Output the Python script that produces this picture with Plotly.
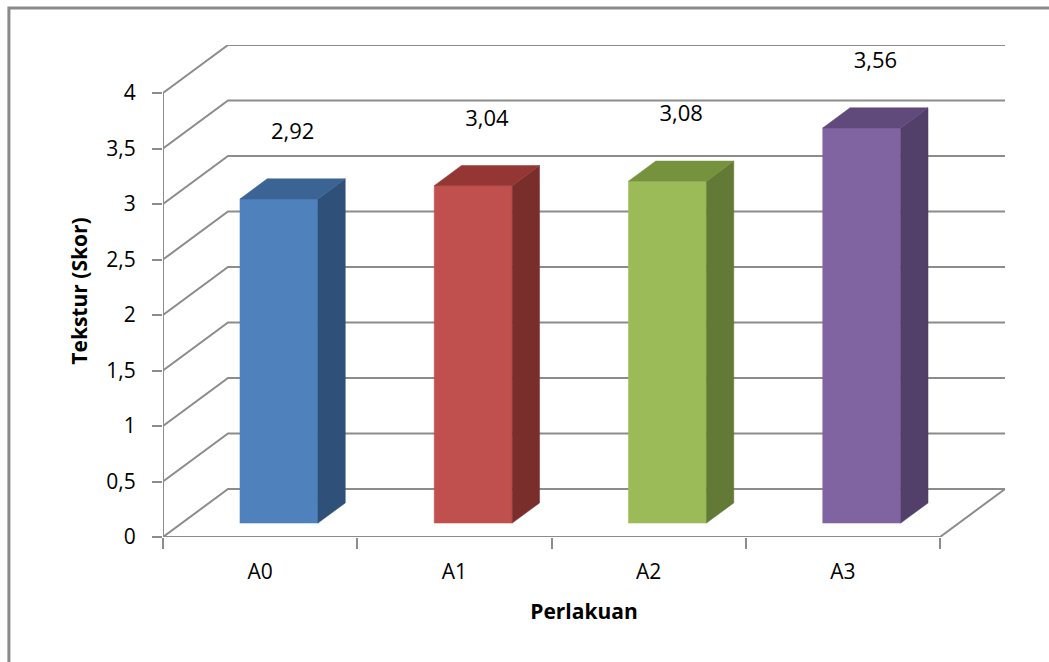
import plotly.graph_objects as go

# ---- data ----
categories = ["A0", "A1", "A2", "A3"]
values = [2.92, 3.04, 3.08, 3.56]
y_ticks = [0, 0.5, 1, 1.5, 2, 2.5, 3, 3.5, 4]
y_tick_labels = ["0", "0,5", "1", "1,5", "2", "2,5", "3", "3,5", "4"]

# ---- style ----
front_colors = ["#4F81BD", "#C0504D", "#9BBB59", "#8064A2"]
side_colors = ["#2F5078", "#7A2E2C", "#637A36", "#523F6A"]
top_colors = ["#3B6494", "#943634", "#76923C", "#5F4A7B"]
grid_color = "#8C8C8C"
font_family = "Open Sans"

# oblique projection (depth offset, in axis units)
DX = 0.3346
DY = 0.4324
F0, F1 = 0.29, 0.71     # bar depth span (fraction of full depth)
W = 0.4016              # bar width in category units
LBL = 0.50              # label lift above bar top

n = len(categories)
xmin, xmax = -0.5, n - 0.5
ymax = y_ticks[-1]

fig = go.Figure()

# gridlines: back wall + left wall diagonals
for v in y_ticks:
    fig.add_trace(go.Scatter(
        x=[xmin, xmin + DX, xmax + DX], y=[v, v + DY, v + DY],
        mode="lines", line=dict(color=grid_color, width=2),
        hoverinfo="skip", showlegend=False))
# floor right diagonal
fig.add_trace(go.Scatter(
    x=[xmax, xmax + DX], y=[0, DY], mode="lines",
    line=dict(color=grid_color, width=2), hoverinfo="skip", showlegend=False))
# front axis lines
fig.add_trace(go.Scatter(
    x=[xmin, xmin, xmax], y=[ymax, 0, 0], mode="lines",
    line=dict(color=grid_color, width=2), hoverinfo="skip", showlegend=False))

# bars
for i, (cat, v) in enumerate(zip(categories, values)):
    xl = i - W / 2 + F0 * DX
    xr = xl + W
    ddx = (F1 - F0) * DX
    y0 = F0 * DY
    y1 = F1 * DY
    faces = [
        ([xl, xr, xr, xl, xl], [y0, y0, v + y0, v + y0, y0], front_colors[i]),
        ([xr, xr + ddx, xr + ddx, xr, xr], [y0, y1, v + y1, v + y0, y0], side_colors[i]),
        ([xl, xr, xr + ddx, xl + ddx, xl], [v + y0, v + y0, v + y1, v + y1, v + y0], top_colors[i]),
    ]
    for fx, fy, col in faces:
        fig.add_trace(go.Scatter(
            x=fx, y=fy, mode="lines", fill="toself", fillcolor=col,
            line=dict(color=col, width=0.5), hoverinfo="skip", showlegend=False))

# data labels
fig.add_trace(go.Scatter(
    x=[i + 0.5 * DX for i in range(n)],
    y=[v + 0.5 * DY + LBL for v in values],
    text=[f"{v:.2f}".replace(".", ",") for v in values],
    mode="text", textposition="middle center",
    textfont=dict(family=font_family, size=22, color="#000000"),
    hoverinfo="skip", showlegend=False, cliponaxis=False))

fig.update_layout(
    width=1049, height=662,
    margin=dict(l=163, r=44, t=45, b=125),
    paper_bgcolor="white", plot_bgcolor="white",
    font=dict(family=font_family, size=21, color="#000000"),
    showlegend=False,
    xaxis=dict(
        range=[xmin, xmax + DX], showgrid=False, zeroline=False, showline=False,
        tickmode="array", tickvals=list(range(n)), ticktext=categories,
        ticks="", ticklabelstandoff=20,
        minor=dict(tickmode="array", tickvals=[k - 0.5 for k in range(n + 1)],
                   ticks="outside", ticklen=11, tickwidth=2, tickcolor=grid_color,
                   showgrid=False),
        title=dict(text="<b>Perlakuan</b>", font=dict(size=21), standoff=20),
        fixedrange=True,
    ),
    yaxis=dict(
        range=[0, ymax + DY], showgrid=False, zeroline=False, showline=False,
        tickmode="array", tickvals=y_ticks, ticktext=y_tick_labels,
        ticks="outside", ticklen=10, tickwidth=2, tickcolor=grid_color,
        ticklabelstandoff=12,
        title=dict(text="<b>Tekstur (Skor)</b>", font=dict(size=21), standoff=12),
        fixedrange=True,
    ),
    shapes=[dict(type="rect", xref="paper", yref="paper",
                 x0=-0.183, x1=1.07, y0=-0.3, y1=1.075,
                 line=dict(color="#8A8A8A", width=3), layer="below")],
)

fig.write_html("out.html")
